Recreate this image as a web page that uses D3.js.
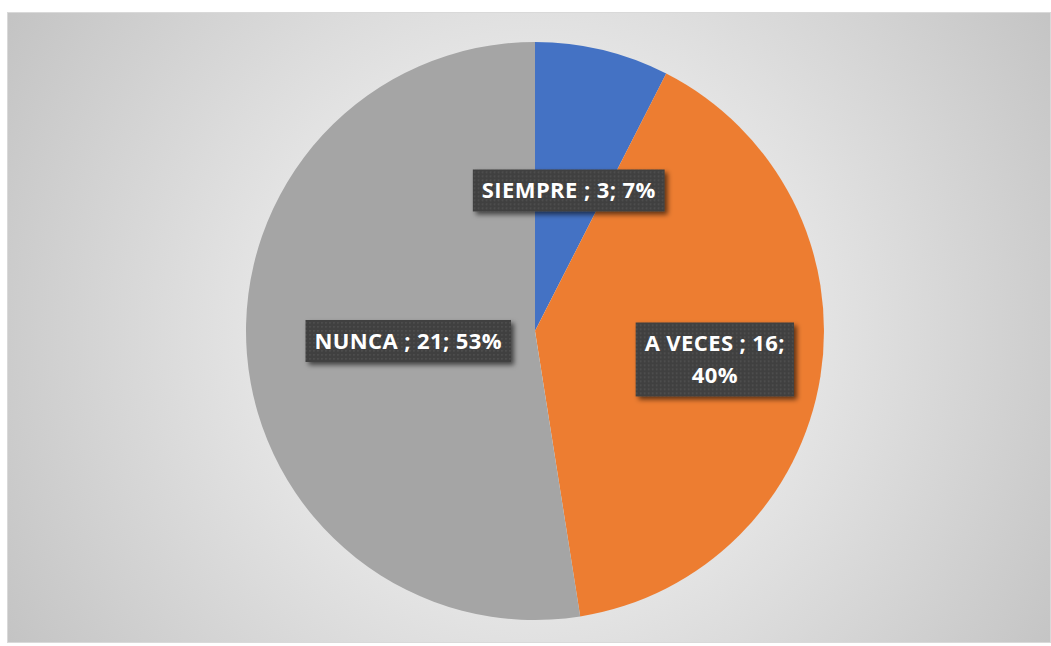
<!DOCTYPE html>
<html>
<head>
<meta charset="UTF-8">
<title></title>
<script src="https://d3js.org/d3.v7.min.js"></script>
<style>
  html, body { margin: 0; padding: 0; background: #fff; }
</style>
</head>
<body>
<div id="chart"></div>
<script>
// datos del gráfico
const categories = ["SIEMPRE", "A VECES", "NUNCA"];
const values = [3, 16, 21];
const percentLabels = ["7%", "40%", "53%"];
const colors = ["#4472C4", "#ED7D31", "#A5A5A5"];

const W = 1051, H = 646;
const cx = 535, cy = 331, R = 289;
// posición de etiquetas (fracción del radio) y ancho máximo antes de cortar línea
const labelRadius = [0.5, 0.63, 0.44];
const wrapWidth = [240, 175, 240];

const svg = d3.select('#chart').append('svg').attr('width', W).attr('height', H);
const defs = svg.append('defs');

const grad = defs.append('radialGradient').attr('id', 'bg')
  .attr('gradientUnits', 'userSpaceOnUse')
  .attr('cx', cx).attr('cy', cy).attr('r', 620);
grad.append('stop').attr('offset', '0%').attr('stop-color', '#ffffff');
grad.append('stop').attr('offset', '100%').attr('stop-color', '#c3c3c3');

const pat = defs.append('pattern').attr('id', 'dots')
  .attr('patternUnits', 'userSpaceOnUse').attr('width', 4).attr('height', 4);
pat.append('rect').attr('width', 4).attr('height', 4).attr('fill', '#404040');
pat.append('rect').attr('x', 1).attr('y', 1).attr('width', 1.5).attr('height', 1.5).attr('fill', '#535353');

const shadow = defs.append('filter').attr('id', 'shadow')
  .attr('x', '-20%').attr('y', '-30%').attr('width', '150%').attr('height', '180%');
shadow.append('feDropShadow').attr('dx', 3).attr('dy', 3).attr('stdDeviation', 2.5)
  .attr('flood-color', '#000').attr('flood-opacity', 0.6);

// fondo del área del gráfico
svg.append('rect').attr('x', 7.5).attr('y', 12.5).attr('width', 1043).attr('height', 630)
  .attr('fill', 'url(#bg)').attr('stroke', '#d9d9d9').attr('stroke-width', 1);

const dataset = categories.map((c, i) => ({ cat: c, val: values[i], pct: percentLabels[i], color: colors[i] }));

const pie = d3.pie().sort(null).value(d => d.val);
const pieData = pie(dataset);
const arcPath = d3.arc().innerRadius(0).outerRadius(R);

const g = svg.append('g').attr('transform', `translate(${cx},${cy})`);
g.selectAll('path').data(pieData).enter().append('path')
  .attr('d', arcPath)
  .attr('fill', d => d.data.color);

// etiquetas
const labels = g.selectAll('g.lbl').data(pieData).enter().append('g')
  .attr('class', 'lbl')
  .attr('transform', (d, i) => {
    const a = (d.startAngle + d.endAngle) / 2;
    const r = R * labelRadius[i];
    return `translate(${Math.sin(a) * r},${-Math.cos(a) * r})`;
  });

labels.each(function (d, i) {
  const el = d3.select(this);
  const words = `${d.data.cat} ; ${d.data.val}; ${d.data.pct}`.split(' ');
  const box = el.append('rect').attr('fill', 'url(#dots)').attr('filter', 'url(#shadow)');
  const txt = el.append('text')
    .attr('fill', '#fff')
    .attr('font-family', '"Open Sans", sans-serif')
    .attr('font-weight', 'bold')
    .attr('font-size', '22px')
    .attr('letter-spacing', '0.4px')
    .attr('text-anchor', 'middle');

  // cortar líneas según el ancho disponible
  const lines = [];
  let cur = [];
  const probe = txt.append('tspan');
  words.forEach(w => {
    cur.push(w);
    probe.text(cur.join(' '));
    if (probe.node().getComputedTextLength() > wrapWidth[i] && cur.length > 1) {
      cur.pop();
      lines.push(cur.join(' '));
      cur = [w];
    }
  });
  lines.push(cur.join(' '));
  probe.remove();

  const lh = 32;
  const bh = 42 + (lines.length - 1) * lh;
  const top = -bh / 2;
  let maxW = 0;
  lines.forEach((l, k) => {
    const t = txt.append('tspan').attr('x', 0).attr('y', top + 29 + k * lh).text(l);
    maxW = Math.max(maxW, t.node().getComputedTextLength());
  });
  const bw = maxW + 18;
  box.attr('x', -bw / 2).attr('y', top).attr('width', bw).attr('height', bh);
});
</script>
</body>
</html>
